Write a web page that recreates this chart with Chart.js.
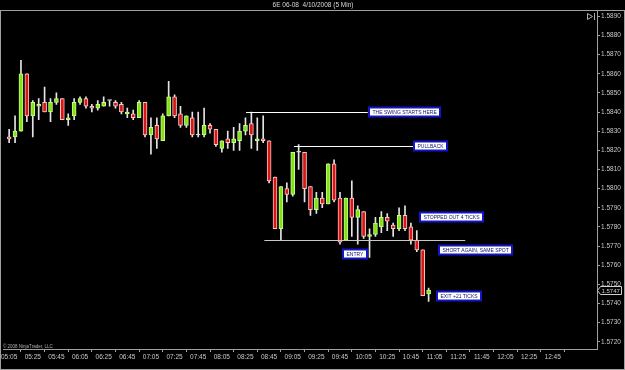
<!DOCTYPE html>
<html><head><meta charset="utf-8">
<script src="https://cdn.jsdelivr.net/npm/chart.js@4.4.1/dist/chart.umd.min.js"></script>
<style>html,body{margin:0;padding:0;background:#000;}#wrap{width:625px;height:370px;}</style>
</head><body><div id="wrap"><canvas id="c" width="625" height="370"></canvas></div>
<script>
// ---- data (5-minute bars, 6E 06-08, 4/10/2008) ----
const times = ['05:05','05:10','05:15','05:20','05:25','05:30','05:35','05:40','05:45','05:50','05:55',
 '06:00','06:05','06:10','06:15','06:20','06:25','06:30','06:35','06:40','06:45','06:50','06:55',
 '07:00','07:05','07:10','07:15','07:20','07:25','07:30','07:35','07:40','07:45','07:50','07:55',
 '08:00','08:05','08:10','08:15','08:20','08:25','08:30','08:35','08:40','08:45','08:50','08:55',
 '09:00','09:05','09:10','09:15','09:20','09:25','09:30','09:35','09:40','09:45','09:50','09:55',
 '10:00','10:05','10:10','10:15','10:20','10:25','10:30','10:35','10:40','10:45','10:50','10:55',
 '11:00'];
const opens  = [1.5827,1.5827,1.5830,1.5860,1.5838,1.5843,1.5845,1.5840,1.5845,1.5847,1.5836,
 1.5838,1.5845,1.5847,1.5843,1.5842,1.5843,1.5846,1.5845,1.5844,1.5839,1.5839,1.5837,
 1.5845,1.5828,1.5833,1.5825,1.5838,1.5848,1.5839,1.5833,1.5837,1.5828,1.5828,1.5833,
 1.5831,1.5821,1.5826,1.5824,1.5825,1.5830,1.5834,1.5825,1.5826,1.5825,1.5806,1.5779,
 1.5800,1.5797,1.5819,1.5819,1.5801,1.5789,1.5795,1.5792,1.5813,1.5795,1.5773,1.5795,
 1.5785,1.5788,1.5775,1.5776,1.5780,1.5785,1.5781,1.5779,1.5786,1.5780,1.5773,1.5768,
 1.5745];
const highs  = [1.5831,1.5838,1.5867,1.5860,1.5846,1.5847,1.5853,1.5847,1.5850,1.5847,1.5839,
 1.5847,1.5848,1.5848,1.5844,1.5846,1.5848,1.5846,1.5846,1.5845,1.5842,1.5841,1.5846,
 1.5845,1.5837,1.5837,1.5839,1.5856,1.5849,1.5843,1.5838,1.5840,1.5840,1.5842,1.5834,
 1.5831,1.5825,1.5830,1.5832,1.5834,1.5837,1.5840,1.5837,1.5838,1.5825,1.5806,1.5801,
 1.5803,1.5819,1.5823,1.5819,1.5801,1.5798,1.5798,1.5813,1.5815,1.5798,1.5795,1.5804,
 1.5791,1.5788,1.5779,1.5785,1.5788,1.5787,1.5782,1.5790,1.5791,1.5782,1.5778,1.5768,
 1.5748];
const lows   = [1.5824,1.5824,1.5830,1.5835,1.5827,1.5836,1.5840,1.5835,1.5844,1.5836,1.5833,
 1.5836,1.5844,1.5842,1.5840,1.5841,1.5843,1.5843,1.5842,1.5839,1.5837,1.5836,1.5837,
 1.5827,1.5818,1.5821,1.5825,1.5838,1.5837,1.5832,1.5832,1.5827,1.5827,1.5827,1.5829,
 1.5822,1.5819,1.5821,1.5820,1.5820,1.5828,1.5821,1.5820,1.5824,1.5803,1.5779,1.5773,
 1.5793,1.5796,1.5810,1.5793,1.5786,1.5787,1.5790,1.5792,1.5793,1.5771,1.5773,1.5775,
 1.5771,1.5774,1.5764,1.5775,1.5777,1.5778,1.5775,1.5778,1.5778,1.5771,1.5767,1.5744,
 1.5741];
const closes = [1.5826,1.5830,1.5860,1.5838,1.5845,1.5844,1.5840,1.5845,1.5847,1.5836,1.5837,
 1.5845,1.5847,1.5843,1.5842,1.5844,1.5845,1.5846,1.5843,1.5840,1.5840,1.5837,1.5845,
 1.5828,1.5832,1.5826,1.5838,1.5848,1.5838,1.5833,1.5838,1.5828,1.5828,1.5833,1.5831,
 1.5823,1.5825,1.5824,1.5826,1.5830,1.5833,1.5828,1.5826,1.5825,1.5804,1.5779,1.5801,
 1.5797,1.5819,1.5819,1.5800,1.5789,1.5795,1.5792,1.5813,1.5794,1.5772,1.5795,1.5785,
 1.5789,1.5775,1.5776,1.5782,1.5785,1.5783,1.5779,1.5786,1.5779,1.5773,1.5768,1.5744,
 1.5747];
const xTickLabels = ['05:05','05:25','05:45','06:05','06:25','06:45','07:05','07:25','07:45','08:05','08:25','08:45',
 '09:05','09:25','09:45','10:05','10:25','10:45','11:05','11:25','11:45','12:05','12:25','12:45'];
const yTickValues = [1.5720,1.5730,1.5740,1.5750,1.5760,1.5770,1.5780,1.5790,1.5800,
 1.5810,1.5820,1.5830,1.5840,1.5850,1.5860,1.5870,1.5880,1.5890];
// annotation lines (price level, from bar slot, to bar slot)
const lineLevels = [1.5840, 1.5822, 1.5773];
const lineFrom   = [40.1, 48.2, 43.2];
const lineTo     = [60.7, 68.5, 77.2];
// annotation labels (text, left bar slot, price at centre)
const noteTexts  = ['THE SWING STARTS HERE','PULLBACK','STOPPED OUT 4 TICKS','SHORT AGAIN, SAME SPOT','ENTRY','EXIT +21 TICKS'];
const noteSlots  = [60.9, 68.5, 69.5, 72.7, 56.5, 72.5];
const notePrices = [1.5840, 1.5822, 1.5785, 1.5768, 1.5766, 1.5744];

// ---- styling ----
const UP = '#84e012', DOWN = '#d81616', DOJI = '#d8d8d8';
const bodyColors = opens.map((o,i)=> closes[i]>o ? UP : (closes[i]<o ? DOWN : DOJI));
const bodyBorders = opens.map((o,i)=> closes[i]>o ? '#c4ff8c' : (closes[i]<o ? '#ffc4c4' : DOJI));
const bodyData = times.map((t,i)=>({x:i, y:[opens[i], closes[i]]}));
const wickData = times.map((t,i)=>({x:i, y:[lows[i], highs[i]]}));
const GRAY = '#a0a0a0', TXT = '#c8c8c8';

const bgPlugin = {
  id:'bg',
  beforeDraw(chart){ const c=chart.ctx; c.save(); c.fillStyle='#000'; c.fillRect(0,0,chart.width,chart.height); c.restore(); }
};
const notesPlugin = {
  id:'notes',
  afterDatasetsDraw(chart){
    const c = chart.ctx, xs = chart.scales.x, ys = chart.scales.y;
    c.save();
    lineLevels.forEach((p,k)=>{
      const y = Math.round(ys.getPixelForValue(p))+0.5;
      c.strokeStyle = k===2 ? '#c8c8c8' : '#ffffff'; c.lineWidth=1;
      c.beginPath(); c.moveTo(xs.getPixelForValue(lineFrom[k]), y); c.lineTo(xs.getPixelForValue(lineTo[k]), y); c.stroke();
    });
    c.font = '5px "Liberation Sans", Arial, sans-serif';
    c.textBaseline='middle';
    noteTexts.forEach((t,k)=>{
      const x = Math.round(xs.getPixelForValue(noteSlots[k]));
      const yc = Math.round(ys.getPixelForValue(notePrices[k]));
      const w = Math.round(c.measureText(t).width) + 7, h = 9;
      c.fillStyle = '#ffffff'; c.fillRect(x, yc-4.5, w, h);
      c.strokeStyle = '#1414c8'; c.lineWidth = 2; c.strokeRect(x, yc-4.5, w, h);
      c.fillStyle = '#10106a'; c.fillText(t, x+3.5, yc+0.5);
    });
    c.restore();
  },
  afterDraw(chart){
    const c = chart.ctx, ys = chart.scales.y, a = chart.chartArea;
    c.save();
    // outer frame
    c.strokeStyle = GRAY; c.lineWidth = 1;
    c.strokeRect(0.5, a.top+0.5, chart.width-1, chart.height-a.top-1);
    // last price tag
    const last = closes[closes.length-1];
    const y = Math.round(ys.getPixelForValue(last))+0.5;
    const x0 = a.right+0.5;
    c.fillStyle='#000'; c.strokeStyle='#d0d0d0';
    c.beginPath(); c.moveTo(x0, y); c.lineTo(x0+3, y-4); c.lineTo(x0+24, y-4); c.lineTo(x0+24, y+4); c.lineTo(x0+3, y+4); c.closePath(); c.fill(); c.stroke();
    c.fillStyle='#d0d0d0'; c.font='6px "Liberation Sans", Arial, sans-serif'; c.textBaseline='middle';
    c.fillText(last.toFixed(4), x0+4, y+0.5);
    // top-right marker
    c.strokeStyle='#b0b0b0';
    c.beginPath(); c.moveTo(587.5,13.5); c.lineTo(592.5,16.5); c.lineTo(587.5,19.5); c.closePath(); c.stroke();
    c.beginPath(); c.moveTo(594.5,13); c.lineTo(594.5,20); c.stroke();
    // copyright
    c.fillStyle='#b0b0b0'; c.font='4.5px "Liberation Sans", Arial, sans-serif'; c.textBaseline='alphabetic';
    c.fillText('\u00A9 2008 NinjaTrader, LLC', 3, a.bottom-1.5);
    c.restore();
  }
};

new Chart(document.getElementById('c'), {
  type:'bar',
  data:{datasets:[
    {data:bodyData, backgroundColor:bodyColors, borderColor:bodyBorders, borderWidth:1, borderSkipped:false,
     barThickness:4, minBarLength:1, grouped:false},
    {data:wickData, backgroundColor:'#e4e4e4', borderWidth:0, barThickness:1, grouped:false}
  ]},
  options:{
    responsive:false, animation:false, devicePixelRatio:1,
    layout:{padding:{left:1,right:0,top:0,bottom:1}},
    plugins:{
      legend:{display:false}, tooltip:{enabled:false},
      title:{display:true, text:'6E 06-08  4/10/2008 (5 Min)', color:'#d8d8d8',
        font:{family:'"Liberation Sans", Arial, sans-serif', size:6.5, weight:'normal', lineHeight:1.2},
        padding:{top:1, bottom:1.2}}
    },
    scales:{
      x:{type:'linear', min:-1, max:99.5, offset:false,
        afterBuildTicks:s=>{ s.ticks = xTickLabels.map((_,k)=>({value:k*4})); },
        afterFit:s=>{ s.height = 20; },
        ticks:{callback:(v,idx)=>xTickLabels[idx], autoSkip:false, maxRotation:0, minRotation:0,
          color:TXT, font:{family:'"Liberation Sans", Arial, sans-serif', size:6.5}, padding:1},
        grid:{drawOnChartArea:false, drawTicks:true, tickLength:3, color:GRAY},
        border:{display:true, color:GRAY}},
      y:{position:'right', min:1.57162, max:1.58933,
        afterBuildTicks:s=>{ s.ticks = yTickValues.map(v=>({value:v})); },
        afterFit:s=>{ s.width = 28; },
        ticks:{callback:v=>Number(v).toFixed(4), color:TXT,
          font:{family:'"Liberation Sans", Arial, sans-serif', size:6.5}, padding:1},
        grid:{drawOnChartArea:false, drawTicks:true, tickLength:3, color:GRAY},
        border:{display:true, color:GRAY}}
    }
  },
  plugins:[bgPlugin, notesPlugin]
});
</script></body></html>
